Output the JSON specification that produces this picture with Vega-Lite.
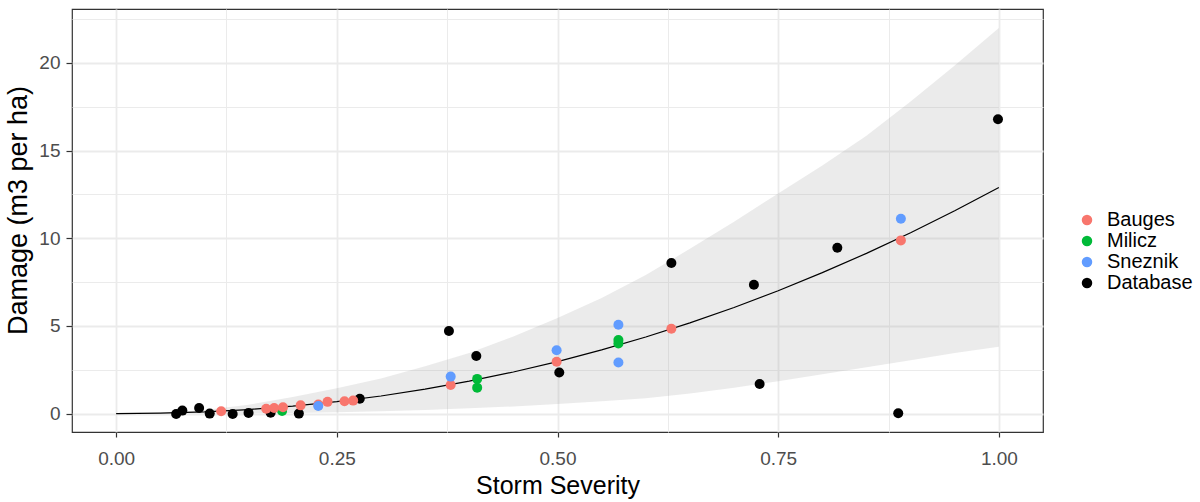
{
  "$schema": "https://vega.github.io/schema/vega-lite/v6.json",
  "width": 971,
  "height": 423,
  "autosize": {"type": "none"},
  "padding": {"left": 72, "top": 9, "right": 157, "bottom": 70},
  "background": "white",
  "datasets": {
    "band": [
      {"x": 0.0, "fit": 0.0, "lo": 0.0, "hi": 0.0},
      {"x": 0.05, "fit": 0.022, "lo": 0.0, "hi": 0.04},
      {"x": 0.1, "fit": 0.098, "lo": 0.0, "hi": 0.2},
      {"x": 0.15, "fit": 0.231, "lo": 0.01, "hi": 0.5},
      {"x": 0.2, "fit": 0.425, "lo": 0.03, "hi": 0.95},
      {"x": 0.25, "fit": 0.682, "lo": 0.08, "hi": 1.45},
      {"x": 0.3, "fit": 1.005, "lo": 0.14, "hi": 2.0},
      {"x": 0.35, "fit": 1.393, "lo": 0.21, "hi": 2.7},
      {"x": 0.4, "fit": 1.849, "lo": 0.3, "hi": 3.45},
      {"x": 0.45, "fit": 2.373, "lo": 0.41, "hi": 4.4},
      {"x": 0.5, "fit": 2.969, "lo": 0.55, "hi": 5.45},
      {"x": 0.55, "fit": 3.633, "lo": 0.7, "hi": 6.6},
      {"x": 0.6, "fit": 4.368, "lo": 0.88, "hi": 7.9},
      {"x": 0.65, "fit": 5.175, "lo": 1.15, "hi": 9.4},
      {"x": 0.7, "fit": 6.055, "lo": 1.48, "hi": 10.95},
      {"x": 0.75, "fit": 7.01, "lo": 1.85, "hi": 12.55},
      {"x": 0.8, "fit": 8.04, "lo": 2.25, "hi": 14.15},
      {"x": 0.85, "fit": 9.14, "lo": 2.65, "hi": 15.85},
      {"x": 0.9, "fit": 10.32, "lo": 3.05, "hi": 17.8},
      {"x": 0.95, "fit": 11.57, "lo": 3.45, "hi": 19.85},
      {"x": 1.0, "fit": 12.9, "lo": 3.82, "hi": 22.0}
    ],
    "points": [
      {"x": 0.068, "y": -0.02, "series": "Database"},
      {"x": 0.075, "y": 0.17, "series": "Database"},
      {"x": 0.094, "y": 0.32, "series": "Database"},
      {"x": 0.106, "y": 0.0, "series": "Database"},
      {"x": 0.132, "y": -0.02, "series": "Database"},
      {"x": 0.15, "y": 0.04, "series": "Database"},
      {"x": 0.175, "y": 0.05, "series": "Database"},
      {"x": 0.207, "y": 0.0, "series": "Database"},
      {"x": 0.276, "y": 0.85, "series": "Database"},
      {"x": 0.377, "y": 4.71, "series": "Database"},
      {"x": 0.408, "y": 3.29, "series": "Database"},
      {"x": 0.502, "y": 2.34, "series": "Database"},
      {"x": 0.629, "y": 8.59, "series": "Database"},
      {"x": 0.7225, "y": 7.35, "series": "Database"},
      {"x": 0.729, "y": 1.69, "series": "Database"},
      {"x": 0.817, "y": 9.46, "series": "Database"},
      {"x": 0.886, "y": 0.02, "series": "Database"},
      {"x": 0.999, "y": 16.79, "series": "Database"},
      {"x": 0.188, "y": 0.15, "series": "Milicz"},
      {"x": 0.409, "y": 1.98, "series": "Milicz"},
      {"x": 0.409, "y": 1.48, "series": "Milicz"},
      {"x": 0.569, "y": 4.2, "series": "Milicz"},
      {"x": 0.569, "y": 4.0, "series": "Milicz"},
      {"x": 0.119, "y": 0.13, "series": "Bauges"},
      {"x": 0.17, "y": 0.28, "series": "Bauges"},
      {"x": 0.179, "y": 0.32, "series": "Bauges"},
      {"x": 0.189, "y": 0.36, "series": "Bauges"},
      {"x": 0.209, "y": 0.47, "series": "Bauges"},
      {"x": 0.229, "y": 0.52, "series": "Bauges"},
      {"x": 0.2395, "y": 0.67, "series": "Bauges"},
      {"x": 0.2587, "y": 0.7, "series": "Bauges"},
      {"x": 0.2685, "y": 0.74, "series": "Bauges"},
      {"x": 0.379, "y": 1.63, "series": "Bauges"},
      {"x": 0.499, "y": 2.96, "series": "Bauges"},
      {"x": 0.629, "y": 4.84, "series": "Bauges"},
      {"x": 0.889, "y": 9.88, "series": "Bauges"},
      {"x": 0.229, "y": 0.43, "series": "Sneznik"},
      {"x": 0.379, "y": 2.11, "series": "Sneznik"},
      {"x": 0.499, "y": 3.61, "series": "Sneznik"},
      {"x": 0.569, "y": 5.07, "series": "Sneznik"},
      {"x": 0.569, "y": 2.91, "series": "Sneznik"},
      {"x": 0.889, "y": 11.11, "series": "Sneznik"}
    ]
  },
  "layer": [
    {
      "data": {"name": "band"},
      "mark": {"type": "area", "color": "#999999", "opacity": 0.2},
      "encoding": {
        "x": {"field": "x", "type": "quantitative", "scale": {"domain": [-0.05, 1.05], "nice": false, "zero": false},
          "axis": {"title": "Storm Severity", "values": [0, 0.125, 0.25, 0.375, 0.5, 0.625, 0.75, 0.875, 1],
            "labelExpr": "(datum.value * 4) % 1 === 0 ? format(datum.value, '.2f') : ''",
            "gridWidth": {"condition": {"test": "(datum.value * 4) % 1 !== 0", "value": 1}, "value": 1.8},
            "tickOpacity": {"condition": {"test": "(datum.value * 4) % 1 !== 0", "value": 0}, "value": 1},
            "tickSize": 5, "labelPadding": 12, "titlePadding": 5, "titleFontSize": 25, "labelOverlap": false}},
        "y": {"field": "lo", "type": "quantitative", "scale": {"domain": [-1.05, 23.08], "nice": false, "zero": false},
          "axis": {"title": "Damage (m3 per ha)", "values": [0, 2.5, 5, 7.5, 10, 12.5, 15, 17.5, 20, 22.5],
            "labelExpr": "datum.value % 5 === 0 ? format(datum.value, 'd') : ''",
            "gridWidth": {"condition": {"test": "datum.value % 5 !== 0", "value": 1}, "value": 1.8},
            "tickOpacity": {"condition": {"test": "datum.value % 5 !== 0", "value": 0}, "value": 1},
            "tickSize": 6, "labelPadding": 6, "titlePadding": 6, "titleFontSize": 27, "titleY": 201, "labelOverlap": false}},
        "y2": {"field": "hi"}
      }
    },
    {
      "data": {"name": "band"},
      "mark": {"type": "line", "color": "#000000", "strokeWidth": 1.2},
      "encoding": {
        "x": {"field": "x", "type": "quantitative"},
        "y": {"field": "fit", "type": "quantitative"}
      }
    },
    {
      "data": {"name": "points"},
      "mark": {"type": "point", "filled": true, "opacity": 1, "size": 100, "shape": "circle"},
      "encoding": {
        "x": {"field": "x", "type": "quantitative"},
        "y": {"field": "y", "type": "quantitative"},
        "color": {"field": "series", "type": "nominal",
          "scale": {"domain": ["Bauges", "Milicz", "Sneznik", "Database"], "range": ["#F8766D", "#00BA38", "#619CFF", "#000000"]},
          "legend": {"title": null, "orient": "none", "legendX": 1005, "legendY": 201, "symbolSize": 110, "symbolType": "circle",
            "labelFontSize": 20, "labelColor": "#000000", "labelOffset": 10, "rowPadding": 1, "symbolStrokeWidth": 0, "labelLimit": 200}},
        "order": {"value": 0}
      }
    }
  ],
  "config": {
    "font": "Liberation Sans",
    "view": {"stroke": "#333333", "strokeWidth": 1.2},
    "axis": {"domain": false, "grid": true, "gridColor": "#EBEBEB", "tickColor": "#333333", "tickWidth": 1.2,
      "labelColor": "#4D4D4D", "labelFont": "Liberation Sans", "labelFontSize": 19,
      "titleFont": "Liberation Sans", "titleFontWeight": "normal", "titleColor": "#000000"},
    "legend": {"labelFont": "Liberation Sans"}
  }
}
